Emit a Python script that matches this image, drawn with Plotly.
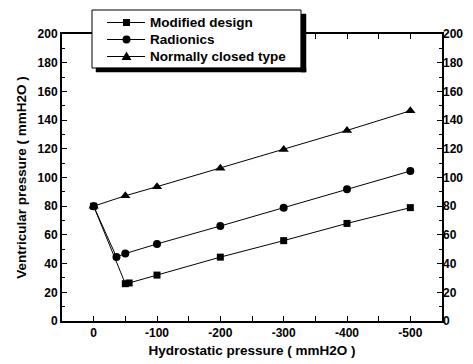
import plotly.graph_objects as go

x_mod = [0, -50, -56, -100, -200, -300, -400, -500]
y_mod = [80, 26, 26.5, 32, 44.5, 56, 68, 79]
x_rad = [0, -36, -50, -100, -200, -300, -400, -500]
y_rad = [80, 44.6, 47, 53.7, 66.2, 79, 91.8, 104.5]
x_nc = [0, -50, -100, -200, -300, -400, -500]
y_nc = [80, 87.3, 93.6, 106.5, 119.5, 132.8, 146.5]
series_names = ["Modified design", "Radionics", "Normally closed type"]
xticks = [0, -100, -200, -300, -400, -500]
xtick_labels = ["0", "-100", "-200", "-300", "-400", "-500"]
yticks = [0, 20, 40, 60, 80, 100, 120, 140, 160, 180, 200]

FONT = "Liberation Sans"
L, R, T, B = 62, 442, 34, 321
PW, PH = R - L, B - T


def px_x(p):
    return (p - L) / PW


def px_y(p):
    return (B - p) / PH


def prect(x0, x1, y0, y1, **kw):
    return dict(type="rect", xref="paper", yref="paper",
                x0=px_x(x0), x1=px_x(x1), y0=px_y(y1), y1=px_y(y0), layer="above", **kw)


fig = go.Figure()
fig.add_trace(go.Scatter(x=x_mod, y=y_mod, name=series_names[0], mode="lines+markers",
                         line=dict(color="black", width=1), marker=dict(symbol="square", size=7, color="black")))
fig.add_trace(go.Scatter(x=x_rad, y=y_rad, name=series_names[1], mode="lines+markers",
                         line=dict(color="black", width=1), marker=dict(symbol="circle", size=8, color="black")))
fig.add_trace(go.Scatter(x=x_nc, y=y_nc, name=series_names[2], mode="lines+markers",
                         line=dict(color="black", width=1), marker=dict(symbol="triangle-up", size=9, color="black")))
fig.add_trace(go.Scatter(x=[0], y=[0], yaxis="y2", mode="markers", marker=dict(opacity=0),
                         showlegend=False, hoverinfo="skip"))

# ---- hand-drawn legend box with drop shadow (paper coordinates) ----
box_l, box_r, box_t, box_b = 92, 301, 10, 68
fig.add_shape(**prect(box_l, box_r, box_t, box_b, fillcolor="white", line=dict(color="black", width=1)))
fig.add_shape(**prect(box_r, box_r + 5, box_t + 4, box_b + 4, fillcolor="black", line=dict(color="black", width=0.5)))
fig.add_shape(**prect(box_l + 4, box_r + 5, box_b, box_b + 4, fillcolor="black", line=dict(color="black", width=0.5)))
rows = [22.5, 39.5, 56.5]
sx0, sx1, mx, tx = 107, 145, 126.5, 149
for i, (ry, name) in enumerate(zip(rows, series_names)):
    fig.add_shape(type="line", xref="paper", yref="paper",
                  x0=px_x(sx0), x1=px_x(sx1), y0=px_y(ry), y1=px_y(ry),
                  line=dict(color="black", width=1), layer="above")
    if i == 0:
        fig.add_shape(**prect(mx - 3.5, mx + 3.5, ry - 3.5, ry + 3.5, fillcolor="black", line=dict(width=0)))
    elif i == 1:
        fig.add_shape(type="circle", xref="paper", yref="paper",
                      x0=px_x(mx - 4), x1=px_x(mx + 4), y0=px_y(ry + 4), y1=px_y(ry - 4),
                      fillcolor="black", line=dict(width=0), layer="above")
    else:
        pts = [(mx, ry - 5), (mx - 5, ry + 3.5), (mx + 5, ry + 3.5)]
        path = "M " + " L ".join(f"{px_x(a):.5f},{px_y(b):.5f}" for a, b in pts) + " Z"
        fig.add_shape(type="path", xref="paper", yref="paper", path=path,
                      fillcolor="black", line=dict(width=0), layer="above")
    fig.add_annotation(xref="paper", yref="paper", x=px_x(tx), y=px_y(ry),
                       xanchor="left", yanchor="middle", showarrow=False,
                       text=f"<b>{name}</b>", borderpad=0,
                       font=dict(family=FONT, size=13.5, color="black"))

tickfont = dict(family=FONT, size=12, color="black", weight="bold")
fig.update_layout(
    width=473, height=364,
    margin=dict(l=L, r=473 - R, t=T, b=364 - B),
    paper_bgcolor="white", plot_bgcolor="white",
    font=dict(family=FONT, color="black"),
    showlegend=False,
    xaxis=dict(range=[50, -550], tickvals=xticks, ticktext=xtick_labels, automargin=False,
               ticks="inside", ticklen=5, tickwidth=1, tickcolor="black",
               minor=dict(ticks="inside", ticklen=3, dtick=50, tick0=0, tickcolor="black"),
               showline=True, linecolor="black", linewidth=2, mirror="allticks",
               showgrid=False, zeroline=False, tickfont=tickfont,
               title=dict(text="<b>Hydrostatic pressure ( mmH2O )</b>", font=dict(family=FONT, size=13.5), standoff=6)),
    yaxis=dict(range=[0, 200], tickvals=yticks, automargin=False,
               ticks="inside", ticklen=5, tickwidth=1, tickcolor="black",
               minor=dict(ticks="inside", ticklen=3, dtick=10, tick0=0, tickcolor="black"),
               showline=True, linecolor="black", linewidth=2, mirror=True,
               showgrid=False, zeroline=False, tickfont=tickfont,
               title=dict(text="<b>Ventricular pressure ( mmH2O )</b>", font=dict(family=FONT, size=13.5), standoff=8)),
    yaxis2=dict(range=[0, 200], tickvals=yticks, overlaying="y", side="right", automargin=False,
                ticks="inside", ticklen=5, tickwidth=1, tickcolor="black",
                minor=dict(ticks="inside", ticklen=3, dtick=10, tick0=0, tickcolor="black"),
                showline=False, showgrid=False, zeroline=False, tickfont=tickfont),
)
fig.write_html("out.html")
